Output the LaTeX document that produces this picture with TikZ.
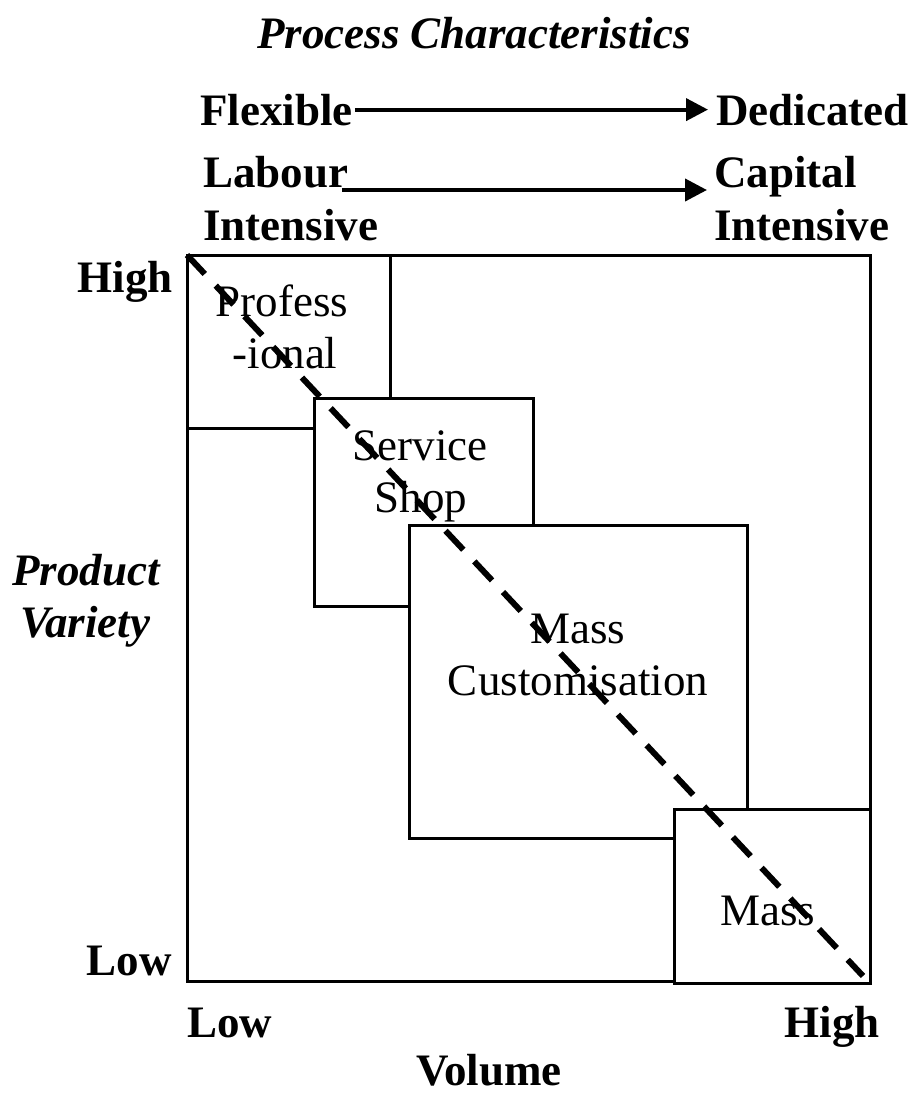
\documentclass[tikz,border=0pt]{standalone}
\usepackage{fontspec}
\setmainfont{Liberation Serif}
\usetikzlibrary{arrows.meta}
\begin{document}
\begin{tikzpicture}[x=1pt,y=-1pt,
  lbl/.style={inner sep=0pt,font=\fontsize{45}{52}\selectfont\bfseries},
  ilbl/.style={inner sep=0pt,font=\fontsize{45}{52}\selectfont\bfseries\itshape},
  boxtxt/.style={inner sep=0pt,font=\fontsize{45}{52}\selectfont},
  region/.style={draw=black,line width=3pt,fill=white},
  trend/.style={line width=6pt,dash pattern=on 26pt off 16pt},
  proc/.style={line width=4pt,-{Triangle[length=22pt,width=22pt]}}]
\useasboundingbox (0,0) rectangle (912,1095);
% boxes
\draw[region] (187,255) rectangle (870,981);
\draw[region] (187,255) rectangle (390,428);
\draw[region] (314,398) rectangle (533,606);
\draw[region] (409,525) rectangle (747,838);
\draw[region] (674,809) rectangle (870,983);
\coordinate (outer tl) at (187,255);
\coordinate (outer br) at (863,976);
% box texts
\node[boxtxt,anchor=base] (p1) at (282,316) {Profess};
\node[boxtxt,anchor=base] (p2) at (285,368) {-ional};
\node[boxtxt,anchor=base] (s1) at (420,460) {Service};
\node[boxtxt,anchor=base] (s2) at (421,512) {Shop};
\node[boxtxt,anchor=base] (m1) at (578,643) {Mass};
\node[boxtxt,anchor=base] (m2) at (578,695) {Customisation};
\node[boxtxt,anchor=base] (mm) at (768,925) {Mass};
% diagonal
\draw[trend] (outer tl) -- (outer br);
% labels
\node[ilbl,anchor=base] (pc) at (474,48) {Process Characteristics};
\node[lbl,anchor=base west] (flex) at (200,125) {Flexible};
\node[lbl,anchor=base west] (ded) at (716,125) {Dedicated};
\node[lbl,anchor=base west] (lab) at (203,187) {Labour};
\node[lbl,anchor=base west] (li) at (203,240) {Intensive};
\node[lbl,anchor=base west] (cap) at (714,187) {Capital};
\node[lbl,anchor=base west] (ci) at (714,240) {Intensive};
\coordinate (a2s) at (342,190);
\coordinate (a2e) at (707,190);
\draw[proc,shorten <=2pt,shorten >=8pt] (flex.east) -- (ded.west);
\draw[proc] (a2s) -- (a2e);
\node[lbl,anchor=base east] (vh) at (173,292) {High};
\node[lbl,anchor=base east] (vl) at (172,975) {Low};
\node[ilbl,anchor=base west] (pv1) at (12,585) {Product};
\node[ilbl,anchor=base west] (pv2) at (20,637) {Variety};
\node[lbl,anchor=base west] (hl) at (187,1037) {Low};
\node[lbl,anchor=base east] (hh) at (880,1037) {High};
\node[lbl,anchor=base] (vol) at (489,1085) {Volume};
\end{tikzpicture}
\end{document}
